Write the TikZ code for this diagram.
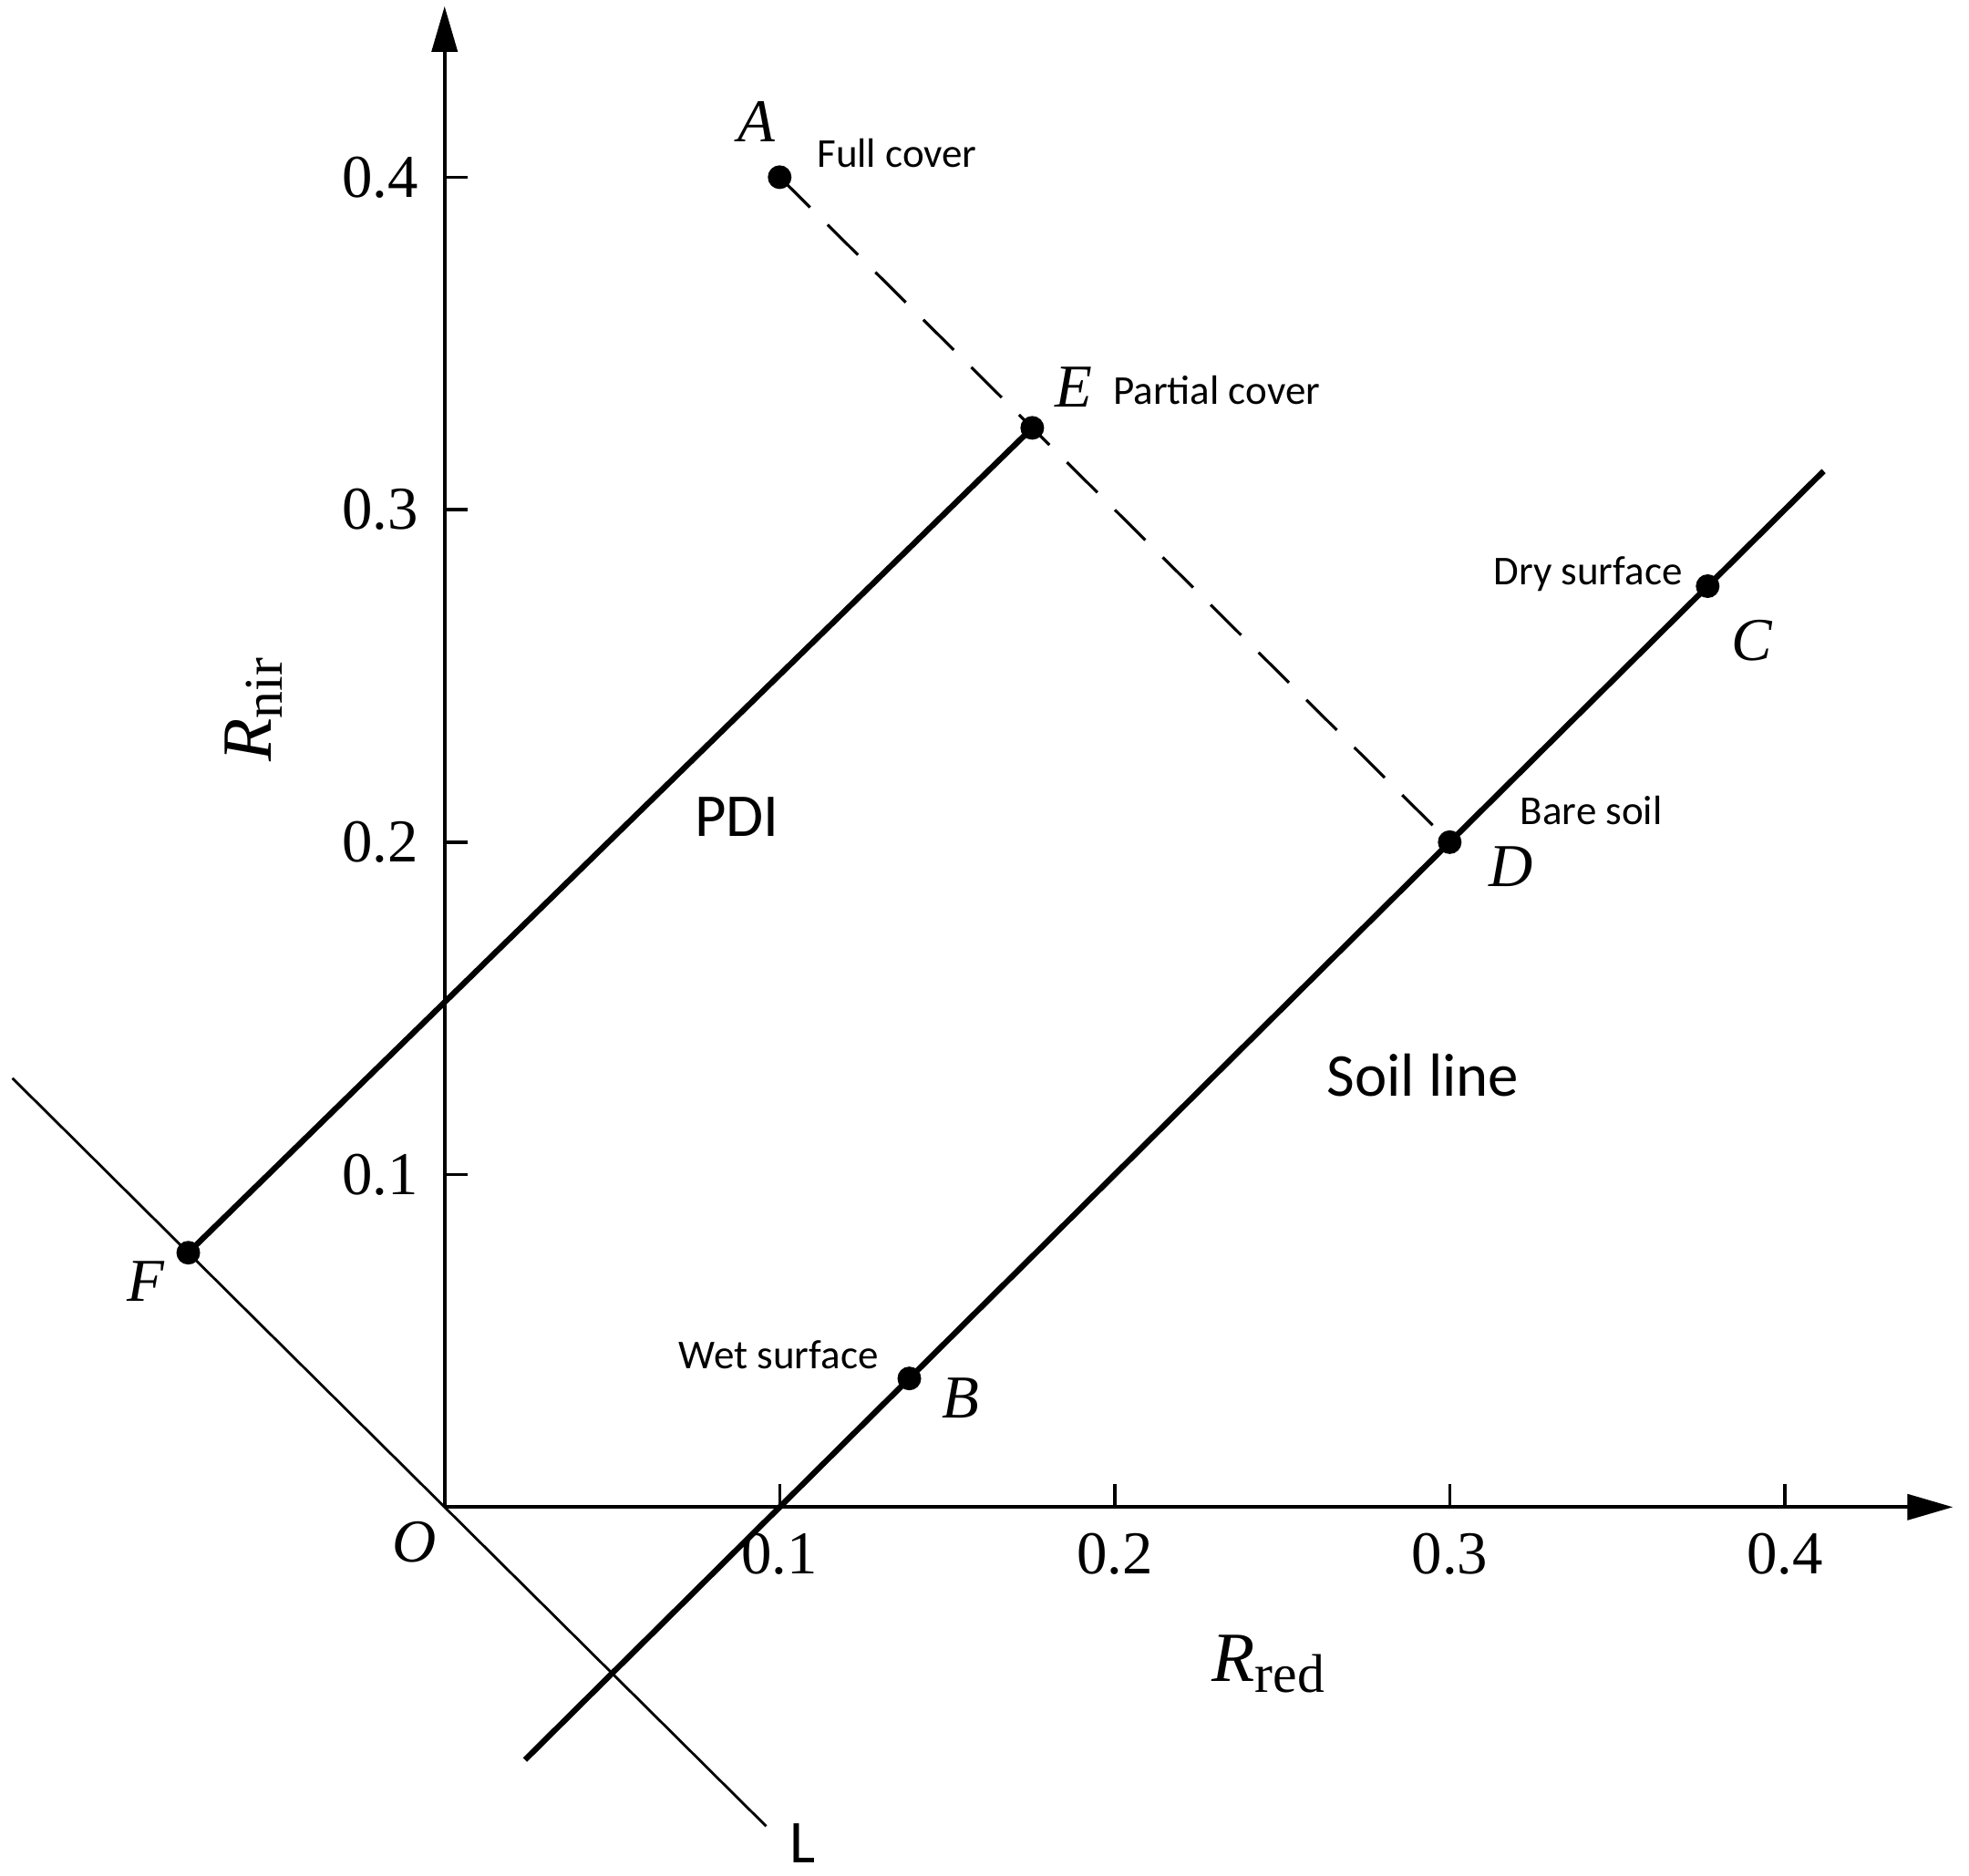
\documentclass[tikz,border=0pt]{standalone}
\usepackage{fontspec}
\setmainfont{Liberation Serif}
\newfontfamily\lab{Carlito}
\usetikzlibrary{arrows.meta}
\begin{document}
\begin{tikzpicture}[x=36.75cm,y=36.47cm,
  dot/.style={circle,fill=black,inner sep=0pt,minimum size=0.26cm},
  axisline/.style={line width=1.1pt,-{Triangle[length=0.5cm,width=0.28cm]}},
  thickline/.style={line width=1.8pt},
  thinline/.style={line width=0.8pt},
  dashline/.style={line width=0.9pt,dash pattern=on 0.47cm off 0.27cm},
  tickmark/.style={line width=1pt},
  ticklab/.style={font=\fontsize{19}{19}\selectfont},
  ptlab/.style={font=\fontsize{19}{19}\selectfont\itshape},
  note/.style={font=\lab\fontsize{12.8}{12.8}\selectfont,inner sep=0pt},
  biglab/.style={font=\lab\fontsize{19}{19}\selectfont}]
\useasboundingbox (-0.1327,-0.1108) rectangle (0.4550,0.4533);
% axes
\coordinate (O) at (0,0);
\coordinate (Xend) at (0.4502,0);
\coordinate (Yend) at (0,0.4514);
\draw[axisline] (O) -- (Xend);
\draw[axisline] (O) -- (Yend);
\foreach \v in {1,2,3,4}{
  \draw[tickmark] (0.\v,0) -- ++(0,0.0068);
  \node[ticklab] (xt\v) at (0.\v,-0.0140) {0.\v};
  \draw[tickmark] (0,0.\v) -- ++(0.0068,0);
  \node[ticklab,anchor=east] (yt\v) at (-0.0045,0.\v) {0.\v};
}
% points
\coordinate (pA) at (0.1,0.4);
\coordinate (pE) at (0.1754,0.3246);
\coordinate (pD) at (0.3,0.2);
\coordinate (pC) at (0.377,0.277);
\coordinate (pB) at (0.1387,0.0387);
\coordinate (pF) at (-0.0765,0.0765);
\coordinate (L1) at (-0.129,0.129);
\coordinate (L2) at (0.096,-0.096);
\coordinate (S1) at (0.024,-0.076);
\coordinate (S2) at (0.4116,0.3116);
% lines
\draw[thinline] (L1) -- (L2);
\draw[thickline] (S1) -- (S2);
\draw[thickline] (pF) -- (pE);
\draw[dashline] (pA) -- (pD);
% dots
\node[dot] (A) at (pA) {};
\node[dot] (E) at (pE) {};
\node[dot] (D) at (pD) {};
\node[dot] (C) at (pC) {};
\node[dot] (B) at (pB) {};
\node[dot] (F) at (pF) {};
% labels
\node[ptlab] (lA) at (0.0930,0.4166) {A};
\node[note,anchor=west] (lFull) at (0.1110,0.4072) {Full cover};
\node[ptlab] (lE) at (0.1878,0.3369) {E};
\node[note,anchor=west] (lPart) at (0.1994,0.3358) {Partial cover};
\node[note,anchor=east] (lDry) at (0.3696,0.2806) {Dry surface};
\node[ptlab] (lC) at (0.3903,0.2606) {C};
\node[note,anchor=west] (lBare) at (0.3209,0.2096) {Bare soil};
\node[ptlab] (lD) at (0.3183,0.1926) {D};
\node[biglab] (lPDI) at (0.0873,0.2077) {PDI};
\node[biglab] (lSoil) at (0.2920,0.1299) {Soil line};
\node[note] (lWet) at (0.0997,0.0457) {Wet surface};
\node[ptlab] (lB) at (0.1541,0.0329) {B};
\node[ptlab] (lF) at (-0.0892,0.0680) {F};
\node[ptlab] (lO) at (-0.0090,-0.0106) {O};
\node[biglab,inner sep=0pt] (lL) at (0.1068,-0.1012) {L};
\node[rotate=90] (lRnir) at (-0.0570,0.2398) {\fontsize{22}{22}\selectfont\textit{R}\raisebox{-0.35ex}{\fontsize{17}{17}\selectfont nir}};
\node (lRred) at (0.2459,-0.0472) {\fontsize{22}{22}\selectfont\textit{R}\raisebox{-0.35ex}{\fontsize{17}{17}\selectfont red}};
\end{tikzpicture}
\end{document}
